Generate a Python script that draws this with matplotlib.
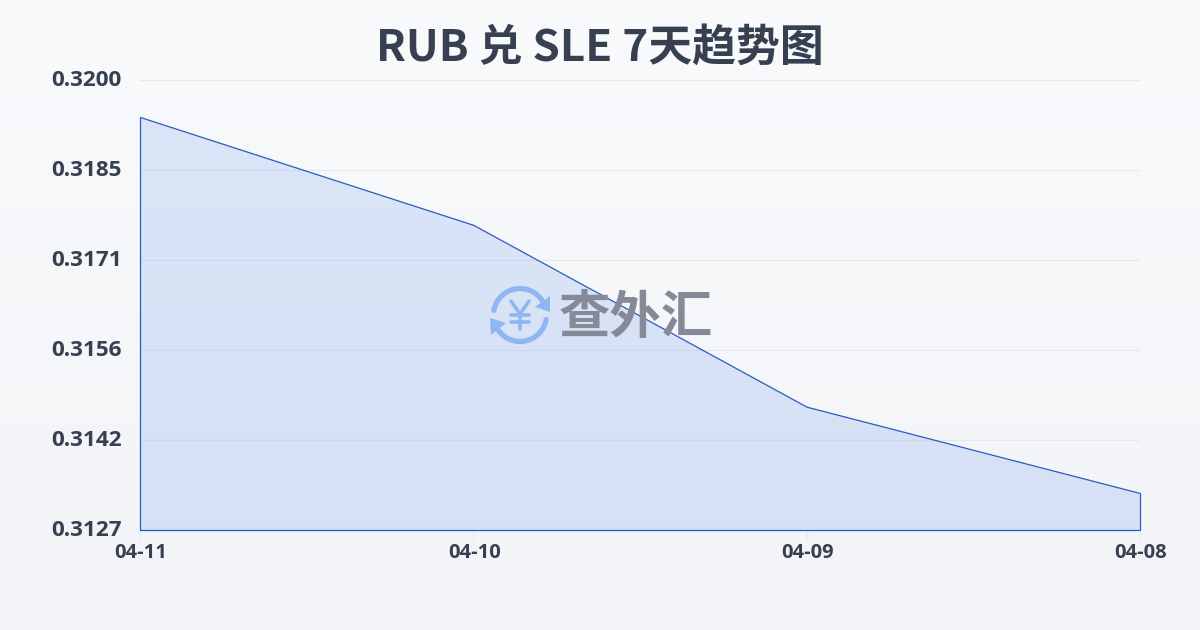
import numpy as np
import matplotlib
matplotlib.use('Agg')
import matplotlib.pyplot as plt
from matplotlib.patches import Arc, Polygon
from matplotlib.colors import LinearSegmentedColormap

plt.rcParams['font.family'] = ['Noto Sans CJK SC', 'DejaVu Sans']

dates = ['04-11', '04-10', '04-09', '04-08']
rates = [0.3194, 0.31765, 0.3147, 0.3133]
y_labels = ['0.3127', '0.3142', '0.3156', '0.3171', '0.3185', '0.3200']
y_low = 0.3127
y_high = 0.3200
title = 'RUB 兑 SLE 7天趋势图'

text_col = '#374050'
line_col = '#2a5cc0'

fig = plt.figure(figsize=(12, 6.3), dpi=100)

# background gradient, whole figure in pixel coords
bg = fig.add_axes([0, 0, 1, 1], zorder=0)
bg_cmap = LinearSegmentedColormap.from_list('bg', ['#f9fafc', '#f3f4f7'])
bg.imshow(np.linspace(0, 1, 256).reshape(-1, 1), aspect='auto', cmap=bg_cmap,
          extent=[0, 1200, 630, 0])
bg.set_xlim(0, 1200)
bg.set_ylim(630, 0)
bg.axis('off')

ax = fig.add_axes([140 / 1200, 100 / 630, 1000 / 1200, 450 / 630], zorder=1)
ax.patch.set_alpha(0)
x = np.arange(len(dates))
ax.set_xlim(0, len(dates) - 1)
ax.set_ylim(y_low, y_high)

yt = np.linspace(y_low, y_high, len(y_labels))
ax.set_yticks(yt)
ax.set_yticklabels([])
ax.set_xticks(x)
ax.set_xticklabels([])
ax.grid(axis='y', color='#e6e9f0', lw=0.8)
ax.set_axisbelow(True)
for s in ax.spines.values():
    s.set_visible(False)
ax.tick_params(axis='y', length=0)
ax.tick_params(axis='x', length=7, width=0.8, color='#e6e9f0')

ax.fill_between(x, rates, y_low, facecolor=(0.2, 0.45, 0.92, 0.15), edgecolor=line_col,
                lw=0.9, zorder=3, clip_on=False)

# tick labels by hand, the reference sits them slightly off the gridlines
for v, lab in zip(yt, y_labels):
    ax.annotate(lab, (0, v), xytext=(-18, 0), textcoords='offset pixels', ha='right', va='center',
                fontsize=16.2, fontweight='bold', color=text_col, family=['Open Sans', 'DejaVu Sans'],
                annotation_clip=False)
for i, lab in zip(x, dates):
    ax.annotate(lab, (i, y_low), xytext=(1, -23), textcoords='offset pixels', ha='center', va='center',
                fontsize=14.5, fontweight='bold', color=text_col, family=['Open Sans', 'DejaVu Sans'],
                annotation_clip=False)

fig.text(0.5, 1 - 48 / 630, title, ha='center', va='center', fontsize=31.6, fontweight='bold',
         color=text_col)

# watermark logo on top of the plot
wm = fig.add_axes([0, 0, 1, 1], zorder=2)
wm.set_xlim(0, 1200)
wm.set_ylim(630, 0)
wm.axis('off')
wm.patch.set_alpha(0)
blue = '#8fb6f3'
# y axis is flipped, so arc angles run clockwise on screen
wm.add_patch(Arc((520, 315), 53, 53, theta1=190, theta2=335, color=blue, lw=3.8, capstyle='round'))
wm.add_patch(Arc((520, 315), 53, 53, theta1=10, theta2=155, color=blue, lw=3.8, capstyle='round'))
wm.add_patch(Polygon([(550, 296), (550, 312), (535, 307)], closed=True, color=blue, lw=0))
wm.add_patch(Polygon([(490, 318), (506, 323), (491, 335)], closed=True, color=blue, lw=0))
# yen sign from strokes, the font glyph is too thin
wm.plot([511, 520, 529], [301, 314, 301], color=blue, lw=2.6, solid_capstyle='round')
wm.plot([520, 520], [314, 329], color=blue, lw=2.6, solid_capstyle='round')
wm.plot([511, 529], [315, 315], color=blue, lw=2.6, solid_capstyle='round')
wm.plot([511, 529], [322, 322], color=blue, lw=2.6, solid_capstyle='round')
wm.set_xlim(0, 1200)
wm.set_ylim(630, 0)
wm.text(636, 318, '查外汇', ha='center', va='center', fontsize=37, fontweight='bold', color='#858a96')

fig.savefig('out.png', dpi=100)
